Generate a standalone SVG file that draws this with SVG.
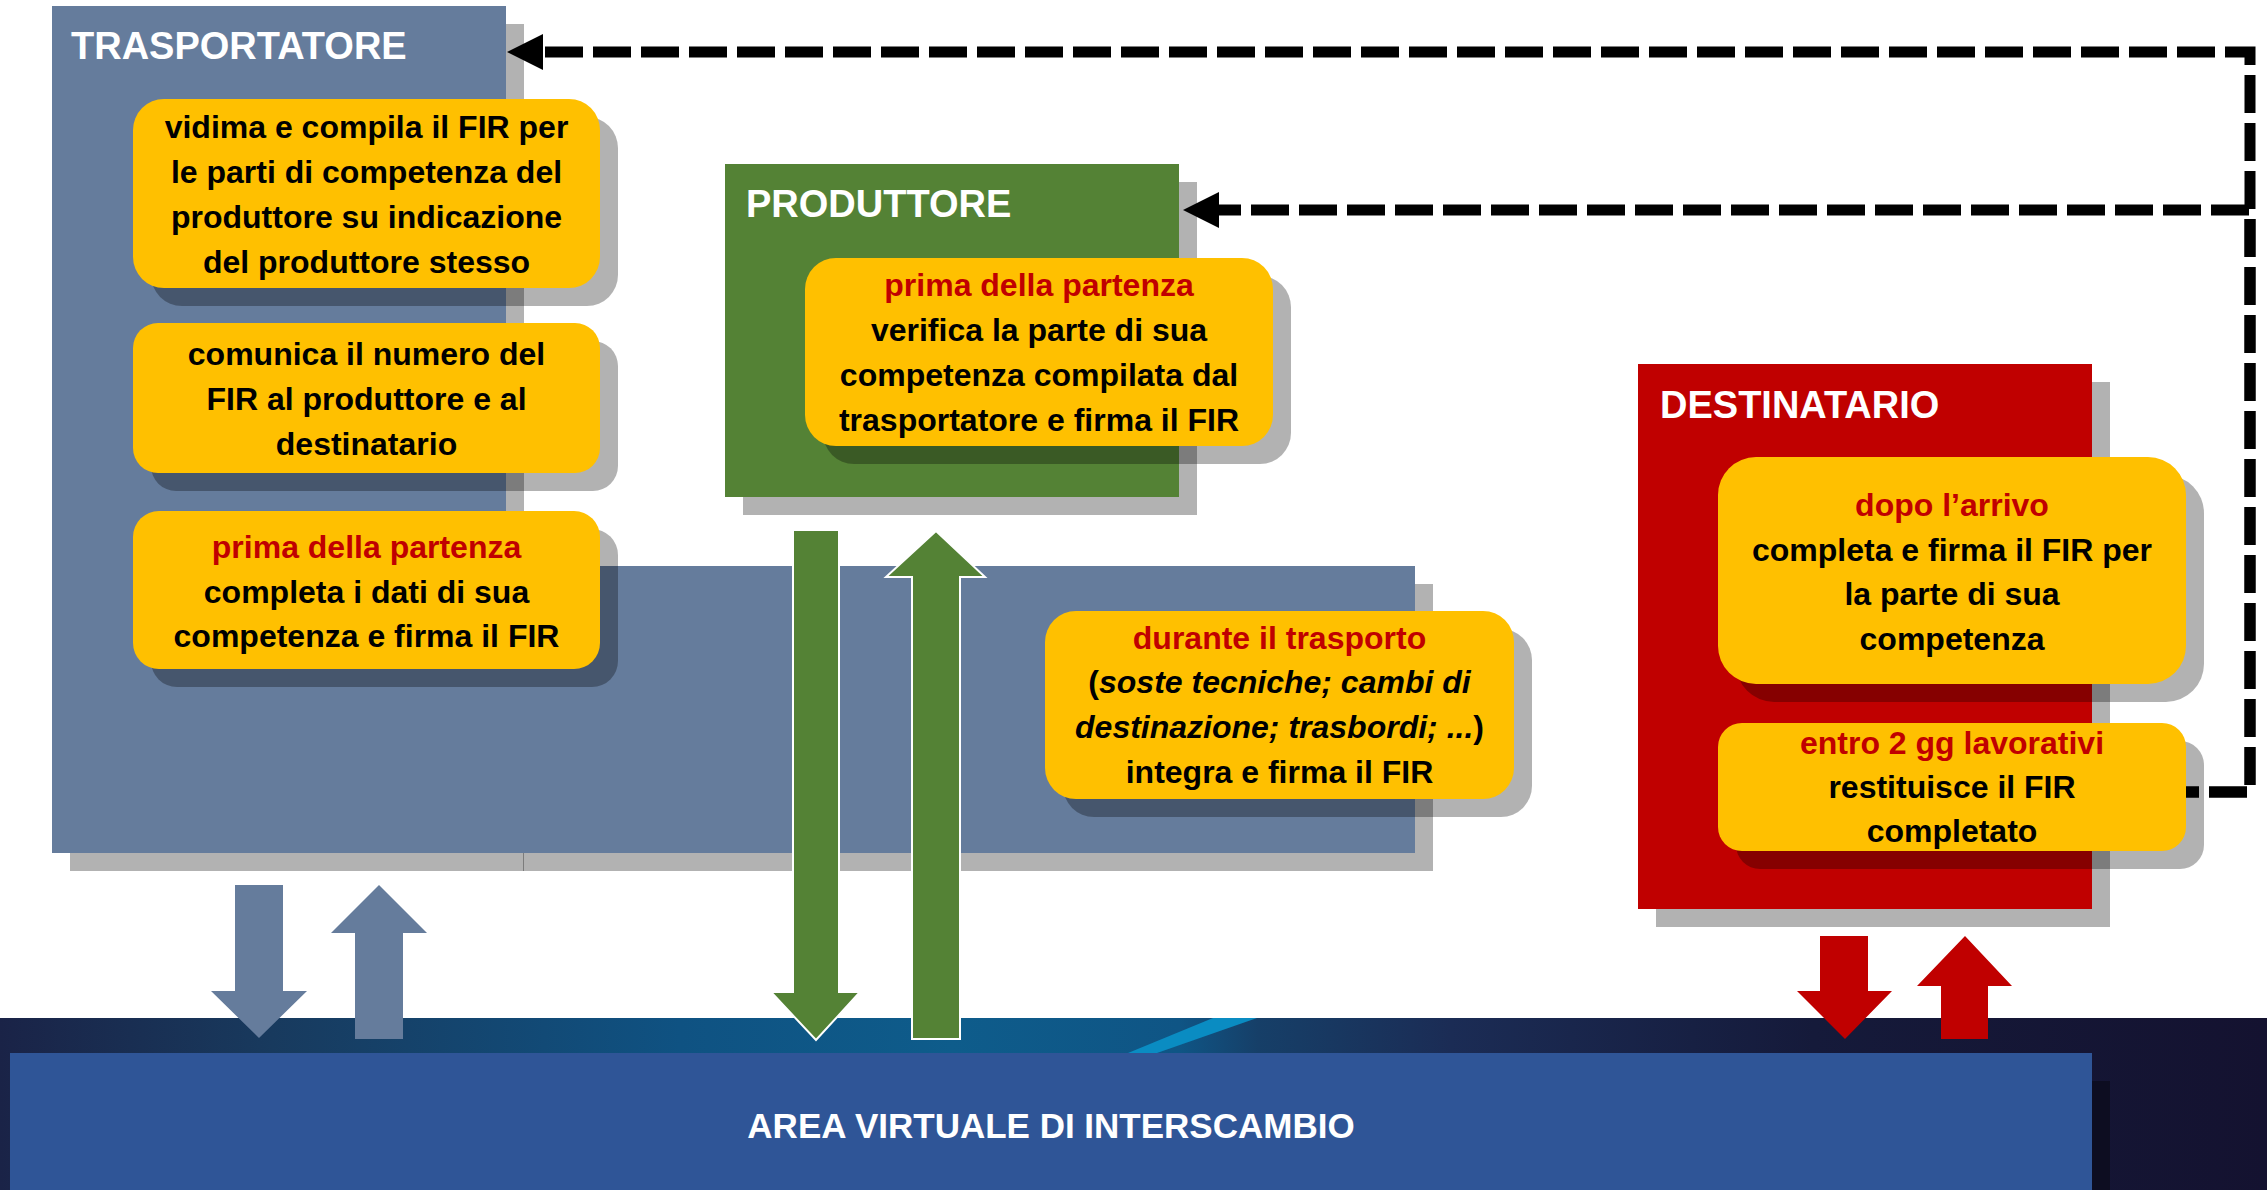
<svg xmlns="http://www.w3.org/2000/svg" width="2267" height="1190" viewBox="0 0 2267 1190">
<defs>
<style>
.sh{fill:#000;fill-opacity:.3}
.note{fill:#FFC000}
.blue{fill:#657C9C}
.green{fill:#548235}
.red{fill:#C00000}
text{font-family:"Liberation Sans",Arial,sans-serif;font-weight:bold}
.t{font-size:32px;text-anchor:middle;fill:#000}
.r{fill:#C00000}
.i{font-style:italic}
.title{font-size:38px;fill:#fff}
.dash{fill:none;stroke:#000;stroke-width:11;stroke-dasharray:38 10;stroke-dashoffset:25;stroke-linejoin:miter}
</style>
<linearGradient id="band" x1="0" y1="0" x2="1" y2="0">
<stop offset="0" stop-color="#1A2347"/>
<stop offset="0.12" stop-color="#183A5E"/>
<stop offset="0.3" stop-color="#0F5282"/>
<stop offset="0.42" stop-color="#0E5C8B"/>
<stop offset="0.52" stop-color="#0F5585"/>
<stop offset="0.555" stop-color="#163F68"/>
<stop offset="0.64" stop-color="#1B2C55"/>
<stop offset="0.8" stop-color="#151A3A"/>
<stop offset="1" stop-color="#141230"/>
</linearGradient>
<marker id="ah" markerUnits="userSpaceOnUse" markerWidth="36" markerHeight="36" viewBox="0 0 36 36" refX="1" refY="18" orient="auto">
<path d="M0,0 L36,18 L0,36 z" fill="#000"/>
</marker>
</defs>
<rect width="2267" height="1190" fill="#fff"/>

<g id="area-virtuale">
<rect x="0" y="1018" width="2267" height="172" fill="url(#band)"/>
<polygon points="1213,1018 1257,1018 1157,1053 1128,1053" fill="#0A8CC2"/>
<rect x="2092" y="1081" width="18" height="109" fill="#000" fill-opacity=".35"/>
<rect x="10" y="1053" width="2082" height="137" fill="#2F5597"/>
<text x="1051" y="1138" font-size="35" fill="#fff" text-anchor="middle">AREA VIRTUALE DI INTERSCAMBIO</text>
</g>

<g id="trasportatore">
<rect class="sh" x="70" y="24" width="454" height="847"/>
<rect class="sh" x="523" y="584" width="910" height="287"/>
<rect class="blue" x="52" y="6" width="454" height="847"/>
<rect class="blue" x="505" y="566" width="910" height="287"/>
<text class="title" x="71" y="59" font-size="37">TRASPORTATORE</text>
</g>

<g id="trasp-vidima">
<rect class="sh" x="151" y="117" width="467" height="189" rx="31"/>
<rect class="note" x="133" y="99" width="467" height="189" rx="31"/>
<text class="t" x="366.5" y="138">vidima e compila il FIR per</text>
<text class="t" x="366.5" y="183">le parti di competenza del</text>
<text class="t" x="366.5" y="228">produttore su indicazione</text>
<text class="t" x="366.5" y="273">del produttore stesso</text>
</g>

<g id="trasp-comunica">
<rect class="sh" x="151" y="341" width="467" height="150" rx="25"/>
<rect class="note" x="133" y="323" width="467" height="150" rx="25"/>
<text class="t" x="366.5" y="365">comunica il numero del</text>
<text class="t" x="366.5" y="410">FIR al produttore e al</text>
<text class="t" x="366.5" y="455">destinatario</text>
</g>

<g id="trasp-partenza">
<rect class="sh" x="151" y="529" width="467" height="158" rx="26"/>
<rect class="note" x="133" y="511" width="467" height="158" rx="26"/>
<text class="t r" x="366.5" y="558">prima della partenza</text>
<text class="t" x="366.5" y="603">completa i dati di sua</text>
<text class="t" x="366.5" y="647">competenza e firma il FIR</text>
</g>

<g id="trasp-durante">
<rect class="sh" x="1063" y="629" width="469" height="188" rx="31"/>
<rect class="note" x="1045" y="611" width="469" height="188" rx="31"/>
<text class="t r" x="1279.5" y="649">durante il trasporto</text>
<text class="t" x="1279.5" y="693">(<tspan class="i">soste tecniche; cambi di</tspan></text>
<text class="t" x="1279.5" y="738"><tspan class="i">destinazione; trasbordi; ...</tspan>)</text>
<text class="t" x="1279.5" y="783">integra e firma il FIR</text>
</g>

<g id="produttore">
<rect class="sh" x="743" y="182" width="454" height="333"/>
<rect class="green" x="725" y="164" width="454" height="333"/>
<text class="title" x="746" y="217">PRODUTTORE</text>
</g>

<g id="prod-verifica">
<rect class="sh" x="823" y="276" width="468" height="188" rx="31"/>
<rect class="note" x="805" y="258" width="468" height="188" rx="31"/>
<text class="t r" x="1039" y="296">prima della partenza</text>
<text class="t" x="1039" y="341">verifica la parte di sua</text>
<text class="t" x="1039" y="386">competenza compilata dal</text>
<text class="t" x="1039" y="431">trasportatore e firma il FIR</text>
</g>

<g id="destinatario">
<rect class="sh" x="1656" y="382" width="454" height="545"/>
<rect class="red" x="1638" y="364" width="454" height="545"/>
<text class="title" x="1660" y="418">DESTINATARIO</text>
</g>

<g id="dest-arrivo">
<rect class="sh" x="1736" y="475" width="468" height="227" rx="38"/>
<rect class="note" x="1718" y="457" width="468" height="227" rx="38"/>
<text class="t r" x="1952" y="516">dopo l’arrivo</text>
<text class="t" x="1952" y="561">completa e firma il FIR per</text>
<text class="t" x="1952" y="605">la parte di sua</text>
<text class="t" x="1952" y="650">competenza</text>
</g>

<g id="dest-restituisce">
<rect class="sh" x="1736" y="741" width="468" height="128" rx="24"/>
<rect class="note" x="1718" y="723" width="468" height="128" rx="24"/>
<text class="t r" x="1952" y="754">entro 2 gg lavorativi</text>
<text class="t" x="1952" y="798">restituisce il FIR</text>
<text class="t" x="1952" y="842">completato</text>
</g>

<g id="connectors">
<path class="dash" d="M2186,792 H2250 V52 H542" marker-end="url(#ah)"/>
<path class="dash" d="M2186,792 H2250 V210 H1218" marker-end="url(#ah)"/>
<polygon class="blue" points="235,885 283,885 283,991 307,991 259,1038 211,991 235,991"/>
<polygon class="blue" points="379,885 427,933 403,933 403,1039 355,1039 355,933 331,933"/>
<polygon class="green" stroke="#fff" stroke-width="2" points="793,530 839,530 839,992 860,992 816,1040 771,992 793,992"/>
<polygon class="green" stroke="#fff" stroke-width="2" points="936,531 985,577 960,577 960,1039 912,1039 912,577 886,577"/>
<polygon class="red" points="1820,936 1868,936 1868,991 1892,991 1845,1039 1797,991 1820,991"/>
<polygon class="red" points="1965,936 2012,986 1988,986 1988,1039 1941,1039 1941,986 1917,986"/>
</g>
</svg>
